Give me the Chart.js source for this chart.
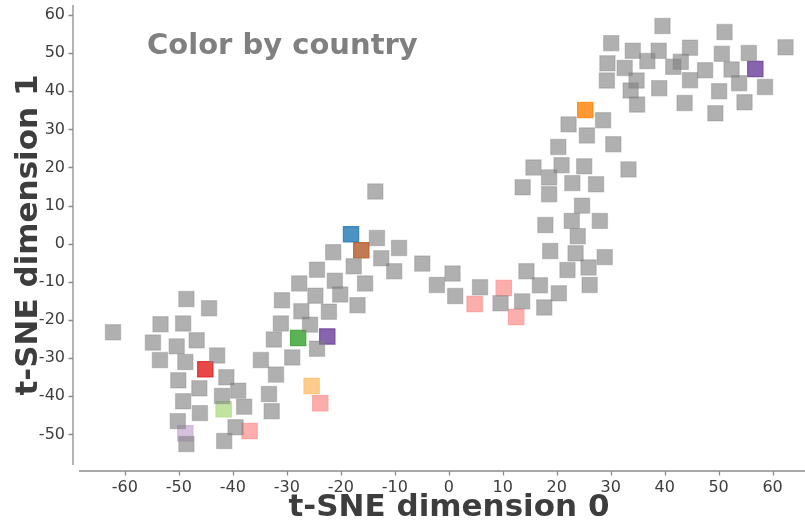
<!DOCTYPE html>
<html>
<head>
<meta charset="utf-8">
<script src="https://cdn.jsdelivr.net/npm/chart.js@4/dist/chart.umd.min.js"></script>
<style>
html, body { margin: 0; padding: 0; background: #fff; overflow: hidden; }
#wrap { width: 830px; height: 528px; }
</style>
</head>
<body>
<div id="wrap"><canvas id="tsneChart"></canvas></div>
<script>
// t-SNE coordinates, points without a highlighted country
var otherX = [
    -62.2, -48.6, -44.4, -53.4, -49.2, -54.8, -50.4, -46.7, -53.5, -48.8,
    -42.9, -50.1, -46.2, -41.2, -39.0, -42.0, -49.2, -46.1, -37.9, -50.2,
    -48.6, -39.5, -41.6, -34.8, -32.0, -33.3, -32.8,
    -30.9, -27.7, -24.7, -21.1, -20.1, -27.3, -22.2, -31.1, -25.7, -32.4,
    -29.0, -24.4, -16.9, -24.4, -21.4, -17.6, -15.5, -13.3, -13.6, -9.2,
    -12.5, -10.1, -4.9, 0.7, -2.2, 1.2, 5.8, 9.6, 13.6, 14.4,
    16.9, 20.4, 17.7, 26.1, 22.0, 25.9, 28.9, 23.5, 18.8, 23.9,
    17.9, 22.8, 28.0, 24.7, 18.6, 13.7, 22.9, 27.3, 18.6, 15.7,
    20.9, 25.1, 33.3, 20.3, 30.5, 25.6, 22.2, 28.6,
    34.9, 29.3, 34.8, 33.7, 39.0, 43.7, 39.6, 51.1, 30.1, 34.1,
    38.9, 44.7, 62.4, 50.6, 55.6, 29.4, 32.6, 36.8, 41.6, 43.0,
    47.5, 52.4, 44.7, 53.8, 58.6, 50.1, 54.8, 49.4
];
var otherY = [
    -23.2, -14.5, -16.9, -21.1, -20.9, -25.9, -26.9, -25.3, -30.5, -31.0,
    -29.3, -35.8, -37.9, -35.0, -38.5, -39.9, -41.3, -44.4, -42.7, -46.5,
    -52.5, -48.1, -51.7, -30.5, -34.3, -39.4, -43.9,
    -14.8, -10.4, -13.6, -9.7, -13.3, -17.7, -17.8, -20.9, -21.2, -25.1,
    -29.8, -27.5, -16.1, -6.8, -2.2, -5.9, -10.4, 1.5, 13.7, -1.1,
    -3.8, -7.2, -5.2, -7.8, -10.8, -13.7, -11.4, -15.6, -15.1, -7.2,
    -10.9, -13.0, -16.7, -10.8, -6.9, -6.2, -3.5, -2.5, -1.9, 2.0,
    4.9, 6.0, 6.0, 10.0, 13.0, 14.8, 15.9, 15.6, 17.4, 20.0,
    20.6, 20.3, 19.5, 25.4, 26.1, 28.4, 31.3, 32.4,
    36.5, 42.8, 42.8, 40.2, 40.8, 36.9, 57.1, 55.5, 52.6, 50.6,
    50.6, 51.4, 51.5, 49.8, 50.0, 47.3, 46.1, 47.9, 46.4, 47.7,
    45.5, 45.7, 42.9, 42.1, 41.1, 40.0, 37.1, 34.2
];

// highlighted countries
var countryX = [-45.1, -41.7, -48.8, -36.9, -27.9, -22.5, -25.4, -23.8, -18.1, -16.2, 4.8, 10.2, 12.5, 25.3, 56.8];
var countryY = [-32.9, -43.4, -49.7, -49.1, -24.7, -24.3, -37.3, -41.8, 2.5, -1.7, -15.8, -11.6, -19.2, 35.1, 45.8];

var xTicks = [-60, -50, -40, -30, -20, -10, 0, 10, 20, 30, 40, 50, 60];
var yTicks = [-50, -40, -30, -20, -10, 0, 10, 20, 30, 40, 50, 60];

var countryColors = [
    "rgba(227,26,28,0.8)", "rgba(178,223,138,0.8)", "rgba(202,178,214,0.8)", "rgba(251,154,153,0.8)",
    "rgba(51,160,44,0.8)", "rgba(106,61,154,0.8)", "rgba(253,191,111,0.8)", "rgba(251,154,153,0.8)",
    "rgba(31,120,180,0.8)", "rgba(177,89,40,0.8)", "rgba(251,154,153,0.8)", "rgba(251,154,153,0.8)",
    "rgba(251,154,153,0.8)", "rgba(255,127,0,0.8)", "rgba(106,61,154,0.8)"
];

var toPoints = (xs, ys) => xs.map((x, i) => ({ x: x, y: ys[i] }));
var noPadding = () => ({ left: 0, top: 0, right: 0, bottom: 0 });

var spinePlugin = {
    id: "spines",
    beforeDatasetsDraw: function (chart) {
        var ctx = chart.ctx;
        var area = chart.chartArea;
        var xs = chart.scales.x;
        var ys = chart.scales.y;
        var lx = area.left - 6; // offset spines like seaborn despine
        var by = area.bottom + 6;
        ctx.save();
        ctx.strokeStyle = "#8c8c8c";
        ctx.lineWidth = 1.3;
        ctx.beginPath();
        ctx.moveTo(lx, area.top);
        ctx.lineTo(lx, area.bottom);
        ctx.moveTo(area.left, by);
        ctx.lineTo(area.right, by);
        ys.ticks.forEach(function (t) {
            var py = Math.round(ys.getPixelForValue(t.value)) + 0.5;
            ctx.moveTo(lx, py);
            ctx.lineTo(lx - 4.5, py);
        });
        xs.ticks.forEach(function (t) {
            var px = Math.round(xs.getPixelForValue(t.value)) + 0.5;
            ctx.moveTo(px, by);
            ctx.lineTo(px, by + 4.5);
        });
        ctx.stroke();

        ctx.fillStyle = "#808080";
        ctx.font = "bold 29px 'DejaVu Sans'";
        ctx.textAlign = "left";
        ctx.textBaseline = "alphabetic";
        ctx.fillText("Color by country", 147, 54);
        ctx.restore();
    },
};

var tsneChart = new Chart(document.getElementById("tsneChart"), {
    type: "scatter",
    data: {
        datasets: [
            {
                label: "other",
                data: toPoints(otherX, otherY),
                pointStyle: "rect",
                pointRadius: 10.8,
                pointHoverRadius: 10.8,
                backgroundColor: "rgba(128,128,128,0.62)",
                borderColor: "rgba(128,128,128,0.35)",
                borderWidth: 1.2,
            },
            {
                label: "country",
                data: toPoints(countryX, countryY),
                pointStyle: "rect",
                pointRadius: 10.8,
                pointHoverRadius: 10.8,
                backgroundColor: countryColors,
                borderColor: countryColors,
                borderWidth: 1.2,
            },
        ],
    },
    options: {
        responsive: true,
        maintainAspectRatio: false,
        animation: false,
        events: [],
        layout: { autoPadding: false, padding: { top: 5, right: 11, left: 0, bottom: 0 } },
        scales: {
            x: {
                type: "linear",
                min: -68.5,
                max: 68.6,
                afterFit: function (s) {
                    s.height = 63;
                    s.getPadding = noPadding;
                },
                afterBuildTicks: function (s) { s.ticks = xTicks.map(v => ({ value: v })); },
                grid: { display: false, drawTicks: false },
                border: { display: false },
                ticks: {
                    color: "#3d3d3d",
                    padding: 13,
                    maxRotation: 0,
                    autoSkip: false,
                    font: { family: "DejaVu Sans", size: 16 },
                },
                title: {
                    display: true,
                    text: "t-SNE dimension 0",
                    color: "#3d3d3d",
                    font: { family: "DejaVu Sans", size: 31, weight: "bold" },
                    padding: { top: 0, bottom: 1.5 },
                },
            },
            y: {
                type: "linear",
                min: -58.0,
                max: 62.6,
                afterFit: function (s) {
                    s.width = 79;
                    s.getPadding = noPadding;
                },
                afterBuildTicks: function (s) { s.ticks = yTicks.map(v => ({ value: v })); },
                grid: { display: false, drawTicks: false },
                border: { display: false },
                ticks: {
                    color: "#3d3d3d",
                    padding: 14,
                    autoSkip: false,
                    font: { family: "DejaVu Sans", size: 16 },
                },
                title: {
                    display: true,
                    text: "t-SNE dimension 1",
                    color: "#3d3d3d",
                    font: { family: "DejaVu Sans", size: 31, weight: "bold" },
                    padding: { top: 10, bottom: 0 },
                },
            },
        },
        plugins: {
            legend: { display: false },
            tooltip: { enabled: false },
        },
    },
    plugins: [spinePlugin],
});
</script>
</body>
</html>
